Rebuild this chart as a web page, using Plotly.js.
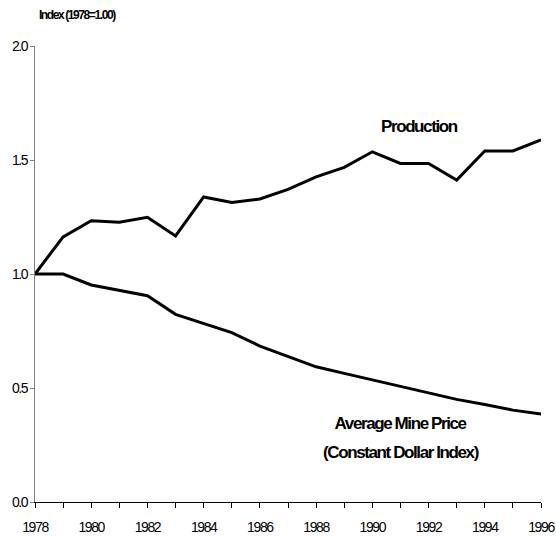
<!DOCTYPE html>
<html>
<head>
<meta charset="utf-8">
<script src="https://cdn.plot.ly/plotly-3.0.1.min.js"></script>
<style>
html,body{margin:0;padding:0;background:#fff;}
#chart{width:556px;height:537px;}
.main-svg text{letter-spacing:-1.4px;}
</style>
</head>
<body>
<div id="chart"></div>
<script>
const years = [1978,1979,1980,1981,1982,1983,1984,1985,1986,1987,1988,1989,1990,1991,1992,1993,1994,1995,1996];
const production = [1.00,1.163,1.234,1.227,1.249,1.167,1.338,1.314,1.329,1.371,1.426,1.468,1.536,1.485,1.485,1.412,1.540,1.540,1.588];
const minePrice = [1.00,1.00,0.952,0.930,0.905,0.823,0.784,0.743,0.684,0.640,0.593,0.564,0.536,0.507,0.478,0.450,0.428,0.403,0.386];
const xTickVals = [1978,1980,1982,1984,1986,1988,1990,1992,1994,1996];
const xTickText = ['1978','1980','1982','1984','1986','1988','1990','1992','1994','1996'];
const yTickVals = [0,0.5,1.0,1.5,2.0];
const yTickText = ['0.0','0.5','1.0','1.5','2.0'];

const fontFam = 'Liberation Sans, Arial, sans-serif';

const traces = [
  {x: years, y: production, type:'scatter', mode:'lines', name:'Production',
   line:{color:'#000', width:3}},
  {x: years, y: minePrice, type:'scatter', mode:'lines', name:'Average Mine Price',
   line:{color:'#000', width:3}}
];

const layout = {
  width:556, height:537,
  margin:{l:35, r:15, t:46, b:35},
  paper_bgcolor:'#fff', plot_bgcolor:'#fff',
  showlegend:false,
  font:{family:fontFam, color:'#000', size:14},
  xaxis:{
    range:[1978,1996], tickvals:xTickVals, ticktext:xTickText,
    showgrid:false, zeroline:false, showline:true, linecolor:'#000', linewidth:1,
    ticks:'outside', ticklen:5, tickcolor:'#000', ticklabelstandoff:7,
    ticklabeloverflow:'allow',
    minor:{tickvals:years, ticks:'outside', ticklen:5, tickcolor:'#000', showgrid:false},
    tickfont:{size:14, family:fontFam}, fixedrange:true
  },
  yaxis:{
    range:[0,2.0], tickvals:yTickVals, ticktext:yTickText,
    showgrid:false, zeroline:false, showline:true, linecolor:'#808080', linewidth:1,
    ticks:'outside', ticklen:4, tickcolor:'#808080',
    tickfont:{size:14, family:fontFam}, fixedrange:true
  },
  annotations:[
    {xref:'paper', yref:'paper', x:0, y:1, xanchor:'left', yanchor:'bottom', yshift:22, xshift:-10,
     text:'<b>Index (1978=1.00)</b>', showarrow:false, font:{size:12, family:fontFam}},
    {xref:'x', yref:'y', x:1991.65, y:1.645, text:'<b>Production</b>', showarrow:false,
     font:{size:17, family:fontFam}},
    {xref:'x', yref:'y', x:1991.0, y:0.346, text:'<b>Average Mine Price</b>', showarrow:false,
     font:{size:17, family:fontFam}},
    {xref:'x', yref:'y', x:1991.0, y:0.215, text:'<b>(Constant Dollar Index)</b>', showarrow:false,
     font:{size:17, family:fontFam}}
  ]
};

Plotly.newPlot('chart', traces, layout, {staticPlot:true, displayModeBar:false});
</script>
</body>
</html>
